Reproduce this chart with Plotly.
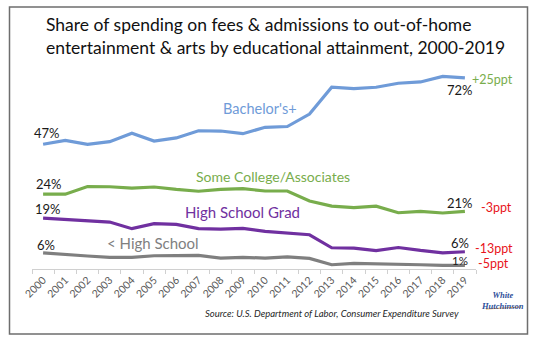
import plotly.graph_objects as go

years = list(range(2000, 2020))
bachelors = [47.0, 48.5, 47.0, 48.0, 51.2, 48.2, 49.4, 52.1, 52.0, 51.0,
             53.4, 53.7, 58.4, 68.5, 68.0, 68.5, 70.0, 70.5, 72.6, 72.0]
some_college = [28.2, 28.2, 31.1, 31.0, 30.5, 30.9, 30.0, 29.3, 30.0, 30.3,
                29.4, 29.4, 25.6, 23.7, 23.1, 23.7, 21.2, 21.7, 21.1, 21.7]
hs_grad = [19.2, 18.8, 18.4, 17.7, 15.2, 17.1, 16.8, 15.2, 15.0, 15.3,
           14.2, 13.7, 12.9, 8.0, 7.9, 6.9, 8.1, 7.0, 6.1, 6.5]
less_hs = [6.1, 5.4, 4.9, 4.4, 4.4, 5.0, 5.1, 5.1, 4.1, 4.4,
           4.1, 4.6, 4.0, 1.6, 2.1, 2.0, 1.8, 1.6, 1.4, 1.4]

series_names = ["Bachelor's+", "Some College/Associates", "High School Grad", "< High School"]
colors = ["#6f9bd8", "#78ad4c", "#7030a0", "#7f7f7f"]
start_labels = ["47%", "24%", "19%", "6%"]
end_labels = ["72%", "21%", "6%", "1%"]
change_labels = ["+25ppt", "-3ppt", "-13ppt", "-5ppt"]
change_colors = ["#78ad4c", "#e8141b", "#e8141b", "#e8141b"]

FONT = "Lato"
W, H = 540, 338
ML, MR, MT, MB = 32, 64, 70, 69


def px(x):
    return (x - ML) / (W - ML - MR)


def py(y):
    return (H - MB - y) / (H - MT - MB)


fig = go.Figure()
data = [bachelors, some_college, hs_grad, less_hs]
for name, vals, col in zip(series_names, data, colors):
    fig.add_trace(go.Scatter(x=years, y=vals, mode="lines", name=name,
                             line=dict(color=col, width=3.2), hoverinfo="skip"))

ann = []
start_shift = [(4, 11), (6, 10), (5, 9), (3, 8)]
end_shift = [(-5, -12), (-5, 8), (-5, 9), (-5, 5)]
end_sizes = [13, 13, 13, 11.5]
for vals, sl, el, ss, es, sz in zip(data, start_labels, end_labels, start_shift, end_shift, end_sizes):
    ann.append(dict(x=years[0], y=vals[0], xref="x", yref="y", text=sl, showarrow=False,
                    xshift=ss[0], yshift=ss[1], font=dict(family=FONT, size=13, color="#1a1a1a")))
    ann.append(dict(x=years[-1], y=vals[-1], xref="x", yref="y", text=el, showarrow=False,
                    xshift=es[0], yshift=es[1], font=dict(family=FONT, size=sz, color="#1a1a1a")))

change_pos = [(470, 79), (479, 207), (473, 248), (476, 263)]
for t, c, (x, y) in zip(change_labels, change_colors, change_pos):
    ann.append(dict(x=px(x), y=py(y), xref="paper", yref="paper", text=t, showarrow=False,
                    xanchor="left", yanchor="middle", font=dict(family=FONT, size=12.5, color=c)))

name_pos = [(260, 108, 14.5), (273, 176, 14), (242, 212, 15), (153, 243, 15)]
for n, col, (x, y, s) in zip(series_names, colors, name_pos):
    ann.append(dict(x=px(x), y=py(y), xref="paper", yref="paper", text=n, showarrow=False,
                    xanchor="center", yanchor="middle", font=dict(family=FONT, size=s, color=col)))

ann.append(dict(x=px(44), y=py(12), xref="paper", yref="paper",
                text="Share of spending on fees & admissions to out-of-home<br>entertainment & arts by educational attainment, 2000-2019",
                showarrow=False, xanchor="left", yanchor="top", align="left",
                font=dict(family=FONT, size=17.5, color="#111111")))
ann.append(dict(x=px(461), y=py(313), xref="paper", yref="paper",
                text="<i>Source: U.S. Department of Labor, Consumer Expenditure Survey</i>",
                showarrow=False, xanchor="right", yanchor="middle",
                font=dict(family=FONT, size=9.5, color="#262626")))
ann.append(dict(x=px(503), y=py(300), xref="paper", yref="paper",
                text="<b><i>White<br>Hutchinson</i></b>", showarrow=False,
                xanchor="center", yanchor="middle", align="center",
                font=dict(family="Liberation Serif", size=8.5, color="#2e4f9a")))

shapes = [
    dict(type="rect", xref="paper", yref="paper", x0=px(9.5), x1=px(527.5), y0=py(334), y1=py(7),
         line=dict(color="#6e6e6e", width=1.5), fillcolor="rgba(0,0,0,0)", layer="below"),
    dict(type="line", xref="paper", yref="paper", x0=px(486), x1=px(521), y0=py(309), y1=py(307),
         line=dict(color="#e8a34a", width=1)),
]

fig.update_layout(
    width=W, height=H, margin=dict(l=ML, r=MR, t=MT, b=MB),
    paper_bgcolor="white", plot_bgcolor="white", showlegend=False,
    annotations=ann, shapes=shapes,
    xaxis=dict(range=[1999.5, 2019.5], tickmode="array", tickvals=years,
               ticktext=[str(y) for y in years], ticks="",
               showline=True, linecolor="#d0d0d0", linewidth=1,
               showgrid=False, zeroline=False, tickangle=-45,
               tickfont=dict(family=FONT, size=10.5, color="#595959"),
               minor=dict(tickmode="array", tickvals=[y - 0.5 for y in years] + [2019.5],
                          ticks="outside", ticklen=4, tickcolor="#d0d0d0", showgrid=False)),
    yaxis=dict(range=[0, 75], visible=False, showgrid=False, zeroline=False),
)

fig.write_html("out.html")
